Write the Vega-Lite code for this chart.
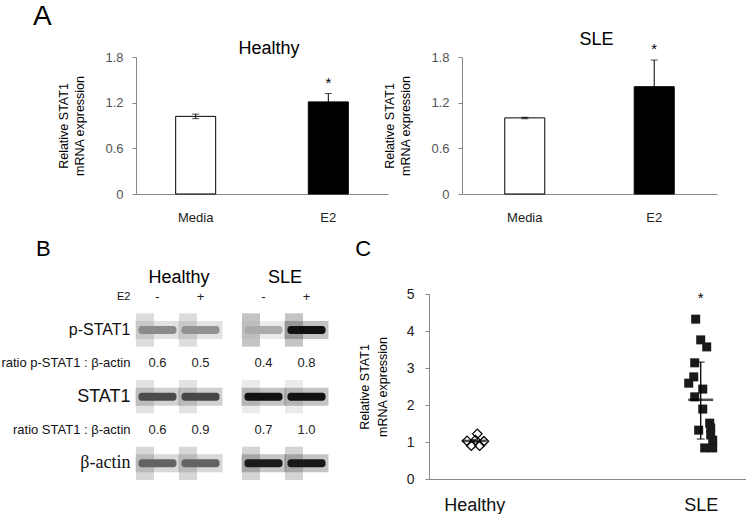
{
  "$schema": "https://vega.github.io/schema/vega-lite/v6.json",
  "background": "white",
  "padding": {"left": 0, "top": 3, "right": 0, "bottom": 0},
  "config": {
    "font": "Liberation Sans",
    "view": {"stroke": null},
    "axis": {"labelFont": "Liberation Sans", "titleFont": "Liberation Sans"},
    "header": {"labelFont": "Liberation Sans"},
    "title": {"font": "Liberation Sans", "color": "#000"}
  },
  "datasets": {
    "bars": [
      {"group": "Healthy", "treatment": "Media", "mean": 1.02, "lo": 0.99, "hi": 1.05, "sig": ""},
      {"group": "Healthy", "treatment": "E2", "mean": 1.21, "lo": 1.10, "hi": 1.32, "sig": "*"},
      {"group": "SLE", "treatment": "Media", "mean": 1.00, "lo": 0.99, "hi": 1.01, "sig": ""},
      {"group": "SLE", "treatment": "E2", "mean": 1.41, "lo": 1.06, "hi": 1.76, "sig": "*"}
    ],
    "blot": [
      {"group": "Healthy", "lane": "-", "row": "E2", "kind": "sign", "label": "-"},
      {"group": "Healthy", "lane": "+", "row": "E2", "kind": "sign", "label": "+"},
      {"group": "SLE", "lane": "-", "row": "E2", "kind": "sign", "label": "-"},
      {"group": "SLE", "lane": "+", "row": "E2", "kind": "sign", "label": "+"},
      {"group": "Healthy", "lane": "-", "row": "p-STAT1", "kind": "blot", "bg": 0.12, "band": 0.42},
      {"group": "Healthy", "lane": "+", "row": "p-STAT1", "kind": "blot", "bg": 0.12, "band": 0.4},
      {"group": "SLE", "lane": "-", "row": "p-STAT1", "kind": "blot", "bg": 0.21, "band": 0.3},
      {"group": "SLE", "lane": "+", "row": "p-STAT1", "kind": "blot", "bg": 0.21, "band": 0.95},
      {"group": "Healthy", "lane": "-", "row": "ratio p-STAT1 : β-actin", "kind": "ratio", "label": "0.6"},
      {"group": "Healthy", "lane": "+", "row": "ratio p-STAT1 : β-actin", "kind": "ratio", "label": "0.5"},
      {"group": "SLE", "lane": "-", "row": "ratio p-STAT1 : β-actin", "kind": "ratio", "label": "0.4"},
      {"group": "SLE", "lane": "+", "row": "ratio p-STAT1 : β-actin", "kind": "ratio", "label": "0.8"},
      {"group": "Healthy", "lane": "-", "row": "STAT1", "kind": "blot", "bg": 0.1, "band": 0.68},
      {"group": "Healthy", "lane": "+", "row": "STAT1", "kind": "blot", "bg": 0.1, "band": 0.7},
      {"group": "SLE", "lane": "-", "row": "STAT1", "kind": "blot", "bg": 0.07, "band": 0.95},
      {"group": "SLE", "lane": "+", "row": "STAT1", "kind": "blot", "bg": 0.07, "band": 0.95},
      {"group": "Healthy", "lane": "-", "row": "ratio STAT1 : β-actin", "kind": "ratio", "label": "0.6"},
      {"group": "Healthy", "lane": "+", "row": "ratio STAT1 : β-actin", "kind": "ratio", "label": "0.9"},
      {"group": "SLE", "lane": "-", "row": "ratio STAT1 : β-actin", "kind": "ratio", "label": "0.7"},
      {"group": "SLE", "lane": "+", "row": "ratio STAT1 : β-actin", "kind": "ratio", "label": "1.0"},
      {"group": "Healthy", "lane": "-", "row": "β-actin", "kind": "blot", "bg": 0.14, "band": 0.58},
      {"group": "Healthy", "lane": "+", "row": "β-actin", "kind": "blot", "bg": 0.14, "band": 0.58},
      {"group": "SLE", "lane": "-", "row": "β-actin", "kind": "blot", "bg": 0.15, "band": 0.9},
      {"group": "SLE", "lane": "+", "row": "β-actin", "kind": "blot", "bg": 0.15, "band": 0.92}
    ],
    "points": [
      {"group": "Healthy", "value": 1.22, "jitter": 0.25},
      {"group": "Healthy", "value": 1.03, "jitter": -0.6},
      {"group": "Healthy", "value": 1.05, "jitter": 0.1},
      {"group": "Healthy", "value": 1.02, "jitter": 0.8},
      {"group": "Healthy", "value": 0.9, "jitter": -0.25},
      {"group": "Healthy", "value": 0.9, "jitter": 0.45},
      {"group": "SLE", "value": 4.32, "jitter": -0.42},
      {"group": "SLE", "value": 3.76, "jitter": 0.0},
      {"group": "SLE", "value": 3.57, "jitter": 0.5},
      {"group": "SLE", "value": 3.14, "jitter": -0.5},
      {"group": "SLE", "value": 2.76, "jitter": -0.58},
      {"group": "SLE", "value": 2.59, "jitter": -1.0},
      {"group": "SLE", "value": 2.43, "jitter": 0.17},
      {"group": "SLE", "value": 2.22, "jitter": -0.5},
      {"group": "SLE", "value": 1.89, "jitter": 0.17},
      {"group": "SLE", "value": 1.51, "jitter": 0.75},
      {"group": "SLE", "value": 1.38, "jitter": 0.83},
      {"group": "SLE", "value": 1.32, "jitter": -0.17},
      {"group": "SLE", "value": 1.19, "jitter": 0.83},
      {"group": "SLE", "value": 1.05, "jitter": 1.0},
      {"group": "SLE", "value": 0.84, "jitter": 0.33},
      {"group": "SLE", "value": 0.84, "jitter": 1.0}
    ],
    "summary": [
      {"group": "Healthy", "mean": 1.03, "lo": 1.0, "hi": 1.06, "sig": "", "sig_y": null},
      {"group": "SLE", "mean": 2.14, "lo": 1.08, "hi": 3.16, "sig": "*", "sig_y": 4.88}
    ]
  },
  "spacing": 14,
  "vconcat": [
    {
      "title": {"text": "A", "anchor": "start", "frame": "bounds", "fontSize": 28, "fontWeight": "normal", "dx": -25, "offset": 0},
      "spacing": -5,
      "hconcat": [
        {
          "data": {"name": "bars"},
          "transform": [{"filter": "datum.group == 'Healthy'"}],
          "title": {"text": "Healthy", "fontSize": 18, "fontWeight": "normal", "offset": -7, "dx": 7},
          "width": 252,
          "height": 137,
          "encoding": {
            "x": {"field": "treatment", "type": "nominal", "sort": ["Media", "E2"], "scale": {"paddingInner": 0.7, "paddingOuter": 0.3},
              "axis": {"title": null, "ticks": false, "labelAngle": 0, "labelFontSize": 13, "labelColor": "#222", "labelPadding": 17, "domainColor": "#888"}}
          },
          "layer": [
            {
              "mark": {"type": "bar", "stroke": "#000", "strokeWidth": 1, "width": 40},
              "encoding": {
                "y": {"field": "mean", "type": "quantitative", "scale": {"domain": [0, 1.8], "nice": false},
                  "axis": {"title": ["Relative STAT1", "mRNA expression"], "values": [0, 0.6, 1.2, 1.8], "labelExpr": "datum.value == 0 ? '0' : format(datum.value, '.1f')", "grid": false, "domainColor": "#888", "tickColor": "#888", "tickSize": 4, "labelColor": "#555", "labelFontSize": 13, "labelPadding": 9, "labelOverlap": false, "titleFontSize": 12.5, "titleFontWeight": "normal", "titleColor": "#000", "titlePadding": 18, "titleLineHeight": 16}},
                "color": {"field": "treatment", "type": "nominal", "scale": {"domain": ["Media", "E2"], "range": ["#ffffff", "#000000"]}, "legend": null}
              }
            },
            {"mark": {"type": "rule", "color": "#000", "strokeWidth": 1}, "encoding": {"y": {"field": "lo", "type": "quantitative"}, "y2": {"field": "hi"}}},
            {"mark": {"type": "tick", "orient": "horizontal", "color": "#000", "size": 7, "thickness": 1}, "encoding": {"y": {"field": "hi", "type": "quantitative"}}},
            {"mark": {"type": "tick", "orient": "horizontal", "color": "#000", "size": 7, "thickness": 1}, "encoding": {"y": {"field": "lo", "type": "quantitative"}}},
            {"mark": {"type": "text", "baseline": "bottom", "dy": -3, "fontSize": 15, "color": "#000"}, "encoding": {"y": {"field": "hi", "type": "quantitative"}, "text": {"field": "sig"}}}
          ]
        },
        {
          "data": {"name": "bars"},
          "transform": [{"filter": "datum.group == 'SLE'"}],
          "title": {"text": "SLE", "fontSize": 18, "fontWeight": "normal", "offset": -7, "dx": 7},
          "width": 255,
          "height": 137,
          "encoding": {
            "x": {"field": "treatment", "type": "nominal", "sort": ["Media", "E2"], "scale": {"paddingInner": 0.7, "paddingOuter": 0.335},
              "axis": {"title": null, "ticks": false, "labelAngle": 0, "labelFontSize": 13, "labelColor": "#222", "labelPadding": 17, "domainColor": "#888"}}
          },
          "layer": [
            {
              "mark": {"type": "bar", "stroke": "#000", "strokeWidth": 1, "width": 40},
              "encoding": {
                "y": {"field": "mean", "type": "quantitative", "scale": {"domain": [0, 1.8], "nice": false},
                  "axis": {"title": ["Relative STAT1", "mRNA expression"], "values": [0, 0.6, 1.2, 1.8], "labelExpr": "datum.value == 0 ? '0' : format(datum.value, '.1f')", "grid": false, "domainColor": "#888", "tickColor": "#888", "tickSize": 4, "labelColor": "#555", "labelFontSize": 13, "labelPadding": 9, "labelOverlap": false, "titleFontSize": 12.5, "titleFontWeight": "normal", "titleColor": "#000", "titlePadding": 18, "titleLineHeight": 16}},
                "color": {"field": "treatment", "type": "nominal", "scale": {"domain": ["Media", "E2"], "range": ["#ffffff", "#000000"]}, "legend": null}
              }
            },
            {"mark": {"type": "rule", "color": "#000", "strokeWidth": 1}, "encoding": {"y": {"field": "lo", "type": "quantitative"}, "y2": {"field": "hi"}}},
            {"mark": {"type": "tick", "orient": "horizontal", "color": "#000", "size": 7, "thickness": 1}, "encoding": {"y": {"field": "hi", "type": "quantitative"}}},
            {"mark": {"type": "tick", "orient": "horizontal", "color": "#000", "size": 7, "thickness": 1}, "encoding": {"y": {"field": "lo", "type": "quantitative"}}},
            {"mark": {"type": "text", "baseline": "bottom", "dy": -3, "fontSize": 15, "color": "#000"}, "encoding": {"y": {"field": "hi", "type": "quantitative"}, "text": {"field": "sig"}}}
          ]
        }
      ]
    },
    {
      "spacing": 26,
      "hconcat": [
        {
          "data": {"name": "blot"},
          "title": {"text": "B", "anchor": "start", "frame": "bounds", "fontSize": 22, "fontWeight": "normal", "dx": 35, "offset": 8},
          "facet": {"column": {"field": "group", "type": "nominal", "title": null, "header": {"labelFontSize": 18, "labelColor": "#000", "labelPadding": -7}}},
          "spacing": 18,
          "spec": {
            "width": 86,
            "height": 200,
            "encoding": {
              "x": {"field": "lane", "type": "nominal", "scale": {"domain": ["-", "+"], "paddingInner": 0, "paddingOuter": 0}, "axis": null},
              "y": {"field": "row", "type": "nominal",
                "scale": {"domain": ["E2", "p-STAT1", "ratio p-STAT1 : β-actin", "STAT1", "ratio STAT1 : β-actin", "β-actin"], "paddingInner": 0, "paddingOuter": 0},
                "axis": {"title": null, "domain": false, "ticks": false, "labelPadding": 5, "labelColor": "#111", "labelLimit": 300,
                  "labelFontSize": {"condition": [{"test": "datum.value == 'E2'", "value": 11}, {"test": "datum.value == 'p-STAT1'", "value": 16}, {"test": "datum.value == 'STAT1' || datum.value == 'β-actin'", "value": 18}], "value": 13},
                  "labelFont": {"condition": {"test": "datum.value == 'β-actin'", "value": "Liberation Serif"}, "value": "Liberation Sans"}}}
            },
            "layer": [
              {"transform": [{"filter": "datum.kind == 'blot'"}], "mark": {"type": "rect"},
                "encoding": {"color": {"field": "bg", "type": "quantitative", "scale": {"domain": [0, 1], "range": ["#ffffff", "#000000"]}, "legend": null}}},
              {"transform": [{"filter": "datum.kind == 'blot'"}], "mark": {"type": "tick", "orient": "horizontal", "size": 44, "thickness": 18, "opacity": 0.25},
                "encoding": {"color": {"field": "band", "type": "quantitative", "legend": null}}},
              {"transform": [{"filter": "datum.kind == 'blot'"}], "mark": {"type": "tick", "orient": "horizontal", "size": 38, "thickness": 8, "opacity": 1, "cornerRadius": 3},
                "encoding": {"color": {"field": "band", "type": "quantitative", "legend": null}}},
              {"transform": [{"filter": "datum.kind != 'blot'"}], "mark": {"type": "text", "fontSize": 13, "color": "#222"},
                "encoding": {"text": {"field": "label"}}}
            ]
          }
        },
        {
          "title": {"text": "C", "anchor": "start", "frame": "bounds", "fontSize": 22, "fontWeight": "normal", "dx": -3, "offset": 19},
          "spacing": 6,
          "vconcat": [
            {"width": 317, "height": 1, "data": {"values": []}, "mark": "text", "encoding": {}},
            {
              "width": 317,
              "height": 185,
              "encoding": {
                "x": {"field": "group", "type": "nominal", "scale": {"type": "point", "domain": ["Healthy", "SLE"], "padding": 0.2},
                  "axis": {"title": null, "ticks": false, "labelAngle": 0, "labelFontSize": 18, "labelColor": "#111", "labelPadding": 17, "domainColor": "#888"}}
              },
              "layer": [
                {
                  "data": {"name": "points"},
                  "transform": [{"filter": "datum.group == 'SLE'"}],
                  "mark": {"type": "square", "size": 81, "color": "#1a1a1a", "opacity": 1},
                  "encoding": {
                    "xOffset": {"field": "jitter", "type": "quantitative", "scale": {"domain": [-1, 1], "range": [-12, 12]}},
                    "y": {"field": "value", "type": "quantitative", "scale": {"domain": [0, 5], "nice": false},
                      "axis": {"title": ["Relative STAT1", "mRNA expression"], "values": [0, 1, 2, 3, 4, 5], "tickCount": 6, "labelOverlap": false, "grid": false, "domainColor": "#888", "tickColor": "#888", "tickSize": 4, "labelFontSize": 14, "labelColor": "#222", "labelPadding": 11, "titleFontSize": 12.5, "titleFontWeight": "normal", "titleColor": "#000", "titlePadding": 17, "titleLineHeight": 18}}
                  }
                },
                {
                  "data": {"name": "points"},
                  "transform": [{"filter": "datum.group == 'Healthy'"}],
                  "mark": {"type": "point", "shape": "diamond", "filled": false, "size": 90, "stroke": "#000", "strokeWidth": 1.3, "opacity": 1},
                  "encoding": {
                    "xOffset": {"field": "jitter", "type": "quantitative", "scale": {"domain": [-1, 1], "range": [-12, 12]}},
                    "y": {"field": "value", "type": "quantitative"}
                  }
                },
                {"data": {"name": "summary"}, "mark": {"type": "rule", "color": "#000", "strokeWidth": 1.3},
                  "encoding": {"y": {"field": "lo", "type": "quantitative"}, "y2": {"field": "hi"}}},
                {"data": {"name": "summary"}, "mark": {"type": "tick", "orient": "horizontal", "color": "#000", "size": 8, "thickness": 1.3},
                  "encoding": {"y": {"field": "lo", "type": "quantitative"}}},
                {"data": {"name": "summary"}, "mark": {"type": "tick", "orient": "horizontal", "color": "#000", "size": 8, "thickness": 1.3},
                  "encoding": {"y": {"field": "hi", "type": "quantitative"}}},
                {"data": {"name": "summary"}, "mark": {"type": "tick", "orient": "horizontal", "color": "#000", "size": 25, "thickness": 2.5},
                  "encoding": {"y": {"field": "mean", "type": "quantitative"}}},
                {"data": {"name": "summary"}, "transform": [{"filter": "datum.sig != ''"}], "mark": {"type": "text", "fontSize": 15, "color": "#000", "baseline": "middle"},
                  "encoding": {"y": {"field": "sig_y", "type": "quantitative"}, "text": {"field": "sig"}}}
              ]
            }
          ]
        }
      ]
    }
  ]
}
